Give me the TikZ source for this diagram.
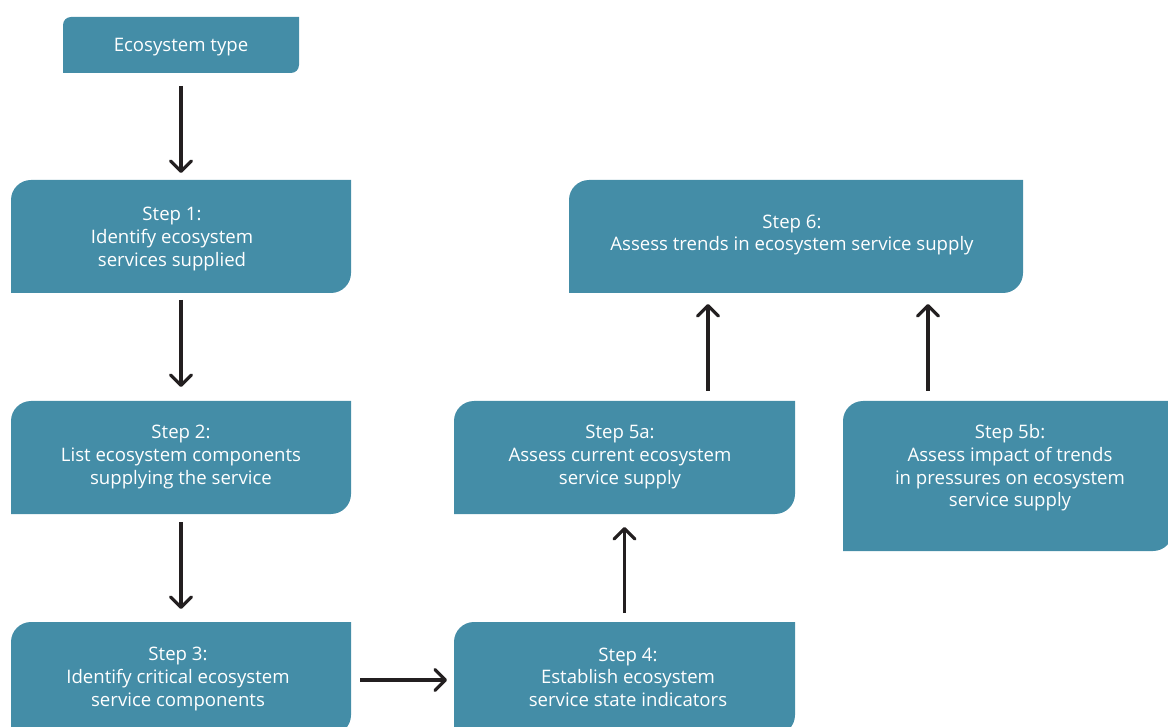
\documentclass[tikz,border=0pt]{standalone}
\usepackage{fontspec}
\setmainfont{Open Sans}
\usetikzlibrary{arrows.meta}
\definecolor{boxblue}{RGB}{68,141,167}
\definecolor{arrowblack}{RGB}{35,31,32}
\newcommand{\cutbox}[2]{%
  \fill[boxblue] (#1.south west) -- ([yshift=-#2]#1.north west)
    arc[start angle=180,end angle=90,radius=#2] -- (#1.north east)
    -- ([yshift=#2]#1.south east)
    arc[start angle=0,end angle=-90,radius=#2] -- cycle;}
\tikzset{
  boxarea/.style={rectangle, inner sep=0pt, outer sep=0pt},
  label/.style={text=white, align=center, font=\fontsize{18.6}{22.6}\selectfont},
  flow/.style={draw=arrowblack, line width=3.2pt,
    -{Straight Barb[length=10.5pt,width=21pt,line cap=round,line join=round]}},
}
\begin{document}
\begin{tikzpicture}[x=1pt,y=1pt]
\useasboundingbox (0,0) rectangle (1168,-727);
% box areas
\node[boxarea, minimum width=236pt, minimum height=56pt] (eco) at (181,-45) {};
\node[boxarea, minimum width=340pt, minimum height=113pt] (s1) at (181,-236.5) {};
\node[boxarea, minimum width=340pt, minimum height=113pt] (s2) at (181,-457.5) {};
\node[boxarea, minimum width=340pt, minimum height=113pt] (s3) at (181,-678.5) {};
\node[boxarea, minimum width=341pt, minimum height=113pt] (s4) at (624.5,-678.5) {};
\node[boxarea, minimum width=341pt, minimum height=113pt] (s5a) at (624.5,-457.5) {};
\node[boxarea, minimum width=330pt, minimum height=150pt] (s5b) at (1008,-476) {};
\node[boxarea, minimum width=454pt, minimum height=113pt] (s6) at (796,-236.5) {};
% fills
\cutbox{eco}{8pt}
\cutbox{s1}{20pt}
\cutbox{s2}{20pt}
\cutbox{s3}{20pt}
\cutbox{s4}{20pt}
\cutbox{s5a}{20pt}
\cutbox{s5b}{20pt}
\cutbox{s6}{20pt}
% texts
\node[label] (teco) at (181,-47) {Ecosystem type};
\node[label] (t1) at (172,-239) {Step 1:\\Identify ecosystem\\services supplied};
\node[label] (t2) at (181,-457) {Step 2:\\List ecosystem components\\supplying the service};
\node[label] (t3) at (178,-679) {Step 3:\\Identify critical ecosystem\\service components};
\node[label] (t4) at (628,-677) {Step 4:\\Establish ecosystem\\service state indicators};
\node[label] (t5a) at (620,-457) {Step 5a:\\Assess current ecosystem\\service supply};
\node[label] (t5b) at (1010,-468) {Step 5b:\\Assess impact of trends\\in pressures on ecosystem\\service supply};
\node[label] (t6) at (792,-235) {Step 6:\\Assess trends in ecosystem service supply};
% connectors
\draw[flow, shorten <=13pt, shorten >=7pt] (eco.south) -- (s1.north);
\draw[flow, shorten <=7pt, shorten >=14pt] (s1.south) -- (s2.north);
\draw[flow, shorten <=8pt, shorten >=13pt] (s2.south) -- (s3.north);
\draw[flow, shorten <=9pt, shorten >=7pt] (s3.east |- 0,-680) -- (s4.west |- 0,-680);
\draw[flow, shorten <=9pt, shorten >=13pt] (s4.north) -- (s5a.south);
\draw[flow, shorten <=10pt, shorten >=11pt] (s5a.north -| 708,0) -- (s6.south -| 708,0);
\draw[flow, shorten <=10pt, shorten >=11pt] (s5b.north -| 928,0) -- (s6.south -| 928,0);
\end{tikzpicture}
\end{document}
